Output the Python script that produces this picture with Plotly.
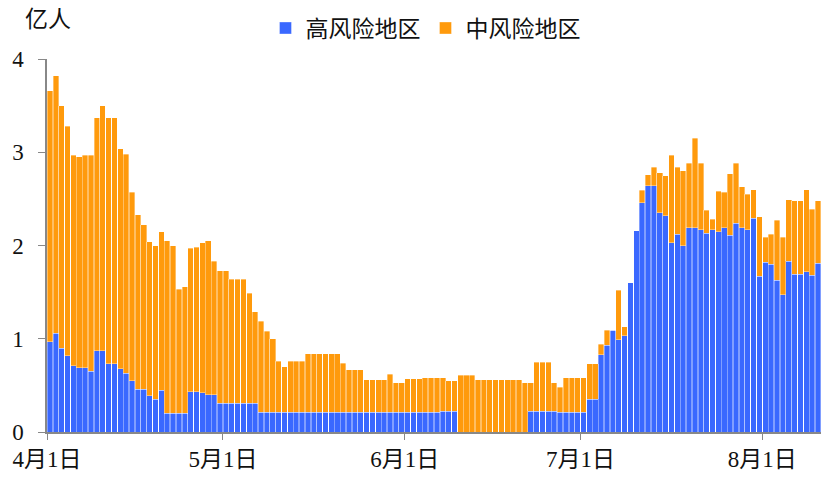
import plotly.graph_objects as go
import pandas as pd

# 高风险地区 (亿人), daily from 2022-04-01
high = [0.97, 1.06, 0.90, 0.82, 0.71, 0.69, 0.69, 0.65, 0.87, 0.87,
        0.73, 0.73, 0.68, 0.63, 0.55, 0.46, 0.46, 0.39, 0.35, 0.45,
        0.20, 0.20, 0.20, 0.20, 0.43, 0.43, 0.42, 0.40, 0.40, 0.31,
        0.31, 0.31, 0.31, 0.31, 0.31, 0.31, 0.21, 0.21, 0.21, 0.21,
        0.21, 0.21, 0.21, 0.21, 0.21, 0.21, 0.21, 0.21, 0.21, 0.21,
        0.21, 0.21, 0.21, 0.21, 0.21, 0.21, 0.21, 0.21, 0.21, 0.21,
        0.21, 0.21, 0.21, 0.21, 0.21, 0.21, 0.21, 0.22, 0.22, 0.22,
        0.00, 0.00, 0.00, 0.00, 0.00, 0.00, 0.00, 0.00, 0.00, 0.00,
        0.00, 0.00, 0.22, 0.22, 0.22, 0.22, 0.22, 0.21, 0.21, 0.21,
        0.21, 0.21, 0.35, 0.35, 0.83, 0.93, 1.09, 0.99, 1.03, 1.60,
        2.16, 2.46, 2.64, 2.64, 2.35, 2.32, 2.03, 2.12, 2.00, 2.19,
        2.19, 2.17, 2.13, 2.17, 2.15, 2.19, 2.11, 2.24, 2.19, 2.17,
        2.29, 1.67, 1.82, 1.80, 1.63, 1.47, 1.83, 1.69, 1.69, 1.72,
        1.68, 1.81]

# 中风险地区 (亿人)
medium = [2.69, 2.76, 2.60, 2.46, 2.26, 2.26, 2.28, 2.32, 2.50, 2.63,
          2.64, 2.64, 2.36, 2.35, 2.02, 1.87, 1.76, 1.65, 1.65, 1.70,
          1.85, 1.80, 1.33, 1.36, 1.54, 1.55, 1.61, 1.65, 1.43, 1.42,
          1.42, 1.33, 1.33, 1.33, 1.18, 0.98, 0.98, 0.87, 0.79, 0.55,
          0.49, 0.55, 0.55, 0.55, 0.63, 0.63, 0.63, 0.63, 0.63, 0.63,
          0.53, 0.46, 0.46, 0.46, 0.35, 0.35, 0.35, 0.35, 0.41, 0.32,
          0.32, 0.36, 0.36, 0.36, 0.37, 0.37, 0.37, 0.36, 0.33, 0.33,
          0.61, 0.61, 0.61, 0.56, 0.56, 0.56, 0.56, 0.56, 0.56, 0.56,
          0.56, 0.53, 0.31, 0.53, 0.53, 0.53, 0.31, 0.27, 0.37, 0.37,
          0.37, 0.37, 0.38, 0.38, 0.11, 0.16, 0.00, 0.53, 0.10, 0.00,
          0.00, 0.13, 0.12, 0.20, 0.43, 0.43, 0.94, 0.72, 0.80, 0.69,
          0.96, 0.71, 0.25, 0.11, 0.43, 0.38, 0.66, 0.64, 0.44, 0.38,
          0.31, 0.64, 0.27, 0.32, 0.64, 0.62, 0.66, 0.79, 0.79, 0.88,
          0.71, 0.67]

dates = pd.date_range("2022-04-01", periods=len(high), freq="D")

tick_vals = ["2022-04-01", "2022-05-01", "2022-06-01", "2022-07-01", "2022-08-01"]
tick_text = ["4月1日", "5月1日", "6月1日", "7月1日", "8月1日"]
y_ticks = [0, 1, 2, 3, 4]

FONT = "'Liberation Serif', 'Noto Sans CJK SC', serif"
BLUE = "#3a68ff"
ORANGE = "#ff9a0c"

fig = go.Figure()
fig.add_trace(go.Bar(
    x=dates, y=high, name="高风险地区",
    xperiod=86400000, xperiodalignment="middle",
    marker=dict(color=BLUE, line=dict(color="rgba(255,255,255,0.45)", width=0.8)),
))
fig.add_trace(go.Bar(
    x=dates, y=medium, name="中风险地区",
    xperiod=86400000, xperiodalignment="middle",
    marker=dict(color=ORANGE, line=dict(color="rgba(255,255,255,0.45)", width=0.8)),
))

fig.update_layout(
    barmode="stack",
    bargap=0.05,
    width=821, height=478,
    margin=dict(l=47, r=0, t=59, b=46, autoexpand=False),
    paper_bgcolor="white", plot_bgcolor="white",
    font=dict(family=FONT, size=23, color="#111111"),
    showlegend=True,
    legend=dict(orientation="h", x=0.489, xanchor="center", y=1.083, yanchor="middle",
                font=dict(size=23, family=FONT), itemwidth=30, traceorder="normal"),
    xaxis=dict(
        type="date", automargin=False,
        range=["2022-04-01", "2022-08-11"],
        tickmode="array", tickvals=tick_vals, ticktext=tick_text,
        ticks="outside", ticklen=6, tickcolor="#888888", tickwidth=1.2,
        showline=True, linecolor="#888888", linewidth=1.5,
        showgrid=False, zeroline=False,
        tickfont=dict(size=23, family=FONT),
    ),
    yaxis=dict(
        range=[0, 4], automargin=False,
        tickmode="array", tickvals=y_ticks,
        ticks="outside", ticklen=7, tickcolor="#888888", tickwidth=1.2,
        showline=True, linecolor="#888888", linewidth=1.5,
        showgrid=False, zeroline=False,
        tickfont=dict(size=23, family=FONT),
        ticklabelstandoff=10,
    ),
    annotations=[dict(
        text="亿人", xref="paper", yref="paper",
        x=-0.031, y=1.105, xanchor="left", yanchor="middle",
        showarrow=False, font=dict(size=23, family=FONT),
    )],
)

fig.write_html("out.html", config={"displayModeBar": False},
               post_script="document.body.style.margin='0';document.body.style.overflow='hidden';")
